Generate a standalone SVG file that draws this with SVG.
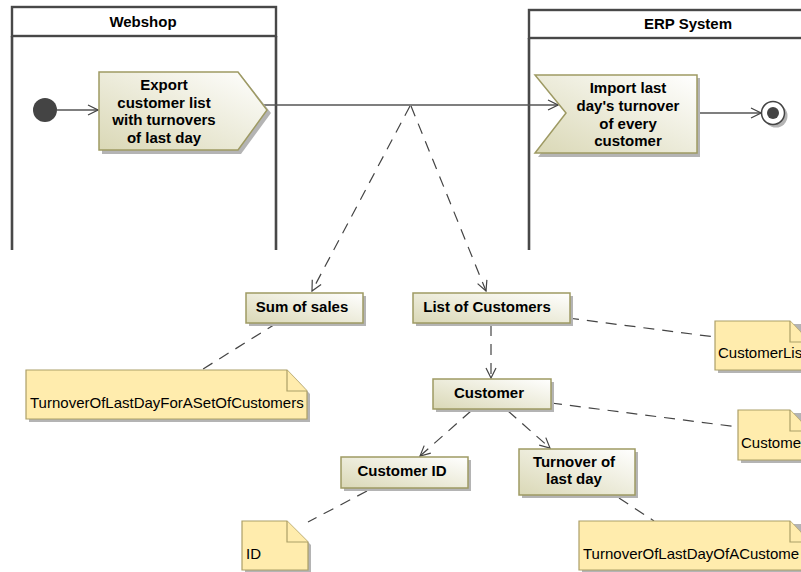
<svg xmlns="http://www.w3.org/2000/svg" width="801" height="572" viewBox="0 0 801 572">
  <defs>
    <linearGradient id="objFill" x1="0" y1="1" x2="1" y2="0">
      <stop offset="0" stop-color="#DAD8B6"/>
      <stop offset="1" stop-color="#FFFFFF"/>
    </linearGradient>
    <marker id="open" viewBox="0 0 12 12" refX="11" refY="6" markerWidth="12" markerHeight="12" markerUnits="userSpaceOnUse" orient="auto">
      <path d="M1,1 L11,6 L1,11" fill="none" stroke="#444" stroke-width="1.2"/>
    </marker>
    <style>
      .lane { fill: none; stroke: #484848; stroke-width: 2.6; }
      .head { fill: #fff; stroke: #484848; stroke-width: 2.4; }
      .shadow { fill: #B4B4B4; }
      .obj { fill: url(#objFill); stroke: #9E9A63; stroke-width: 1.5; }
      .note { fill: #FFECAD; stroke: #AC9F68; stroke-width: 1.2; }
      .flow { fill: none; stroke: #555; stroke-width: 1.3; }
      .dash { fill: none; stroke: #444; stroke-width: 1.2; stroke-dasharray: 11 8; }
      .b { font-family: "Liberation Sans", Arial, sans-serif; font-size: 15px; font-weight: bold; fill: #000; text-anchor: middle; }
      .r { font-family: "Liberation Sans", Arial, sans-serif; font-size: 15px; fill: #000; }
    </style>
  </defs>

  <!-- swimlanes -->
  <g id="lane-webshop">
    <path class="lane" d="M12,36 V250 M276,36 V250"/>
    <rect class="head" x="12" y="7" width="264" height="29"/>
    <text class="b" x="143" y="27">Webshop</text>
  </g>
  <g id="lane-erp">
    <path class="lane" d="M529,38 V250"/>
    <rect class="head" x="529" y="10" width="320" height="28"/>
    <text class="b" x="688" y="29">ERP System</text>
  </g>

  <!-- connectors -->
  <g id="connectors">
    <line class="flow" x1="57" y1="110" x2="98" y2="110" marker-end="url(#open)"/>
    <line class="flow" x1="264" y1="105" x2="558" y2="105" marker-end="url(#open)"/>
    <line class="flow" x1="698" y1="113" x2="761" y2="113" marker-end="url(#open)"/>
    <line class="dash" x1="410" y1="106" x2="312" y2="291" marker-end="url(#open)"/>
    <line class="dash" x1="411" y1="106" x2="486" y2="291" marker-end="url(#open)"/>
    <line class="dash" x1="491" y1="325" x2="491" y2="378" marker-end="url(#open)"/>
    <line class="dash" x1="471" y1="411" x2="420" y2="456" marker-end="url(#open)"/>
    <line class="dash" x1="508" y1="411" x2="550" y2="448" marker-end="url(#open)"/>
    <line class="dash" x1="277" y1="323" x2="203" y2="369"/>
    <line class="dash" x1="568" y1="318" x2="715" y2="337"/>
    <line class="dash" x1="551" y1="403" x2="738" y2="427"/>
    <line class="dash" x1="367" y1="491" x2="308" y2="522"/>
    <line class="dash" x1="619" y1="498" x2="654" y2="521"/>
  </g>

  <!-- initial node -->
  <g id="initial">
    <circle cx="45" cy="110" r="12" fill="#444"/>
  </g>

  <!-- send signal action -->
  <g id="send-export">
    <path class="shadow" d="M102,75 H241 L271,113 L241,154 H102 Z"/>
    <path class="obj" d="M99,72 H238 L267,110 L238,150 H99 Z"/>
    <text class="b" x="164" y="90">Export</text>
    <text class="b" x="164" y="107.5">customer list</text>
    <text class="b" x="164" y="125">with turnovers</text>
    <text class="b" x="164" y="142.5">of last day</text>
  </g>

  <!-- accept event action -->
  <g id="accept-import">
    <path class="shadow" d="M538,78 H700 V157 H538 L569,116 Z"/>
    <path class="obj" d="M535,75 H697 V153 H535 L566,113 Z"/>
    <text class="b" x="628" y="93">Import last</text>
    <text class="b" x="628" y="111">day's turnover</text>
    <text class="b" x="628" y="128.5">of every</text>
    <text class="b" x="628" y="146">customer</text>
  </g>

  <!-- final node -->
  <g id="final">
    <circle cx="776" cy="116" r="11.5" fill="#B4B4B4"/>
    <circle cx="773" cy="113" r="11.5" fill="#fff" stroke="#444" stroke-width="1.5"/>
    <circle cx="773" cy="113" r="6" fill="#444"/>
  </g>

  <!-- object nodes -->
  <g id="obj-sum">
    <rect class="shadow" x="249" y="296" width="117" height="30"/>
    <rect class="obj" x="246" y="293" width="117" height="30"/>
    <text class="b" x="302" y="312">Sum of sales</text>
  </g>
  <g id="obj-list">
    <rect class="shadow" x="416" y="296" width="157" height="30"/>
    <rect class="obj" x="413" y="293" width="157" height="30"/>
    <text class="b" x="487" y="312">List of Customers</text>
  </g>
  <g id="obj-customer">
    <rect class="shadow" x="436" y="382" width="118" height="30"/>
    <rect class="obj" x="433" y="379" width="118" height="30"/>
    <text class="b" x="489" y="398">Customer</text>
  </g>
  <g id="obj-customer-id">
    <rect class="shadow" x="344" y="460" width="127" height="31"/>
    <rect class="obj" x="341" y="457" width="127" height="31"/>
    <text class="b" x="402" y="476">Customer ID</text>
  </g>
  <g id="obj-turnover">
    <rect class="shadow" x="522" y="452" width="116" height="46"/>
    <rect class="obj" x="519" y="449" width="116" height="46"/>
    <text class="b" x="574" y="467">Turnover of</text>
    <text class="b" x="574" y="484">last day</text>
  </g>

  <!-- notes -->
  <g id="note-set">
    <path class="shadow" d="M29,373 H290 L310,394 V422 H29 Z"/>
    <path class="note" d="M26,370 H287 L307,391 V419 H26 Z"/>
    <path class="note" d="M287,370 V391 H307"/>
    <text class="r" x="30" y="408">TurnoverOfLastDayForASetOfCustomers</text>
  </g>
  <g id="note-list">
    <path class="shadow" d="M718,324 H810 V373 H718 Z"/>
    <path class="note" d="M715,321 H790 L810,342 V370 H715 Z"/>
    <path class="note" d="M790,321 V342 H810"/>
    <text class="r" x="718" y="358">CustomerLis</text>
  </g>
  <g id="note-customer">
    <path class="shadow" d="M741,413 H810 V463 H741 Z"/>
    <path class="note" d="M738,410 H790 L810,431 V460 H738 Z"/>
    <path class="note" d="M790,410 V431 H810"/>
    <text class="r" x="741" y="448">Custome</text>
  </g>
  <g id="note-id">
    <path class="shadow" d="M245,524 H290 L311,545 V573 H245 Z"/>
    <path class="note" d="M242,521 H287 L308,542 V570 H242 Z"/>
    <path class="note" d="M287,521 V542 H308"/>
    <text class="r" x="246" y="559">ID</text>
  </g>
  <g id="note-turnover">
    <path class="shadow" d="M582,524 H810 V573 H582 Z"/>
    <path class="note" d="M579,521 H790 L810,542 V570 H579 Z"/>
    <path class="note" d="M790,521 V542 H810"/>
    <text class="r" x="583" y="559">TurnoverOfLastDayOfACustome</text>
  </g>
</svg>
